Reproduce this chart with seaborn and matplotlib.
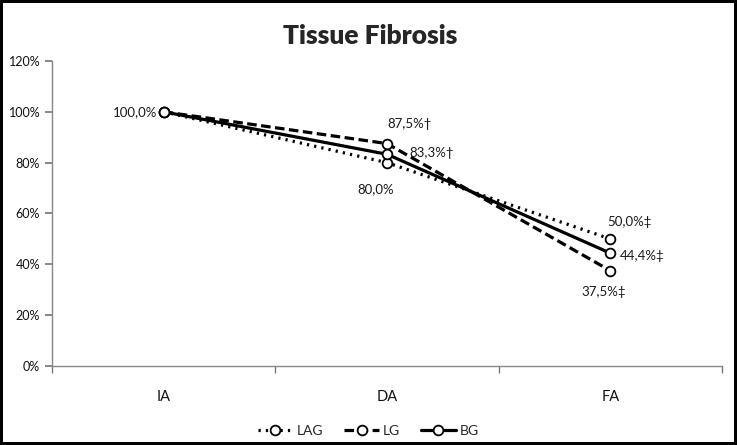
import numpy as np
import pandas as pd
import seaborn as sns
import matplotlib.pyplot as plt
import matplotlib.ticker as ticker

stages = ["IA", "DA", "FA"]
groups = ["LAG", "LG", "BG"]
lag = [100.0, 80.0, 50.0]
lg = [100.0, 87.5, 37.5]
bg = [100.0, 83.3, 44.4]
point_labels = {
    "LAG": ["", "80,0%", "50,0%\u2021"],
    "LG": ["", "87,5%\u2020", "37,5%\u2021"],
    "BG": ["100,0%", "83,3%\u2020", "44,4%\u2021"],
}

sns.set_theme(style="white")
plt.rcParams["font.family"] = ["Lato", "DejaVu Sans"]

df = pd.DataFrame({
    "Stage": stages * 3,
    "Value": lag + lg + bg,
    "Group": ["LAG"] * 3 + ["LG"] * 3 + ["BG"] * 3,
})

fig = plt.figure(figsize=(7.37, 4.45), dpi=100)
ax = fig.add_axes([0.0706, 0.1775, 0.909, 0.6855])

g = sns.lineplot(data=df, x="Stage", y="Value", hue="Group", style="Group",
                 palette={k: "black" for k in groups},
                 dashes={"LAG": (0.7, 1.6), "LG": (3, 1.4), "BG": ""},
                 markers={k: "o" for k in groups}, markersize=7,
                 markerfacecolor="white", markeredgecolor="black", markeredgewidth=1.3,
                 linewidth=2.3, ax=ax, sort=False)

# value labels: (dx, dy, ha) in points
offsets = {
    "LAG": [None, (-8, -19, "center"), (14, 12, "center")],
    "LG": [None, (16, 14, "center"), (-5, -15, "center")],
    "BG": [(-5, 0, "right"), (16, 1, "left"), (7, -2, "left")],
}
series = {"LAG": lag, "LG": lg, "BG": bg}
for grp in groups:
    for i, txt in enumerate(point_labels[grp]):
        if not txt:
            continue
        dx, dy, ha = offsets[grp][i]
        ax.annotate(txt, (i, series[grp][i]), xytext=(dx, dy), textcoords="offset points",
                    ha=ha, va="center", fontsize=9.5, color="#1a1a1a")

ax.set_ylim(0, 120)
ax.set_xlim(-0.5, 2.5)
ax.yaxis.set_major_locator(ticker.MultipleLocator(20))
ax.yaxis.set_major_formatter(ticker.FuncFormatter(lambda v, p: f"{v:.0f}%"))
ax.xaxis.set_minor_locator(ticker.FixedLocator([-0.5, 0.5, 1.5, 2.5]))
ax.tick_params(axis="x", which="major", length=0, pad=17, labelsize=10.5, labelcolor="#111111")
ax.tick_params(axis="x", which="minor", length=5, color="#777777", direction="out", bottom=True)
ax.tick_params(axis="y", length=5, color="#777777", direction="out", left=True, labelsize=9,
               labelcolor="#111111")
ax.set_xlabel("")
ax.set_ylabel("")
for s in ["top", "right"]:
    ax.spines[s].set_visible(False)
for s in ["left", "bottom"]:
    ax.spines[s].set_color("#888888")
    ax.spines[s].set_linewidth(1)

fig.suptitle("Tissue Fibrosis", x=0.502, y=0.945, fontsize=19, fontweight="heavy")

handles, labels = ax.get_legend_handles_labels()
ax.legend(handles=handles, labels=labels, loc="lower center", bbox_to_anchor=(0.5, -0.01),
          bbox_transform=fig.transFigure, ncol=3, frameon=False, fontsize=10,
          handlelength=2.5, columnspacing=1.5, handletextpad=0.3)

fig.patch.set_edgecolor("black")
fig.patch.set_linewidth(3)

plt.savefig("out.png", dpi=100, edgecolor=fig.get_edgecolor())
